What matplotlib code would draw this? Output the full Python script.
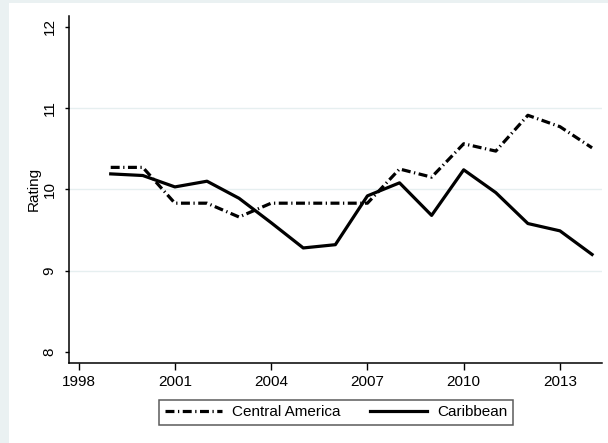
import numpy as np
import matplotlib
matplotlib.use('Agg')
import matplotlib.pyplot as plt
from matplotlib.patches import Rectangle

plt.rcParams['font.family'] = ['Liberation Sans', 'DejaVu Sans']

years = list(range(1999, 2015))
central_america = [10.27, 10.27, 9.83, 9.83, 9.66, 9.83, 9.83, 9.83,
                   9.83, 10.25, 10.15, 10.56, 10.47, 10.91, 10.77, 10.51]
caribbean = [10.19, 10.17, 10.03, 10.10, 9.89, 9.59, 9.28, 9.32,
             9.92, 10.08, 9.68, 10.24, 9.96, 9.58, 9.49, 9.20]
xticks = [1998, 2001, 2004, 2007, 2010, 2013]
yticks = [8, 9, 10, 11, 12]

fig = plt.figure(figsize=(6.08, 4.43), dpi=100, facecolor='#eaf1f2')
# white graph region with thin tinted border at top/left
fig.patches.append(Rectangle((9 / 608, 0), 1, 1 - 3 / 443, transform=fig.transFigure,
                             facecolor='white', edgecolor='none', zorder=-1))

ax = fig.add_axes([69 / 608, 1 - 362.7 / 443, (602 - 69) / 608, (362.7 - 16) / 443])
ax.set_facecolor('white')

ax.plot(years, central_america, color='black', lw=2.3,
        dashes=(2.8, 1.1, 0.4, 1.1), label='Central America')
ax.plot(years, caribbean, color='black', lw=2.3, label='Caribbean')

ax.set_xlim(1997.7, 2014.31)
ax.set_ylim(7.87, 12.13)
ax.set_xticks(xticks)
ax.set_yticks(yticks)
for v in [9, 10, 11]:
    ax.axhline(v, color='#e6eff0', lw=1, zorder=0)

for s in ['top', 'right']:
    ax.spines[s].set_visible(False)
for s in ['left', 'bottom']:
    ax.spines[s].set_linewidth(1.1)

ax.tick_params(axis='x', direction='out', length=5, width=1, pad=4, labelsize=11)
ax.tick_params(axis='y', direction='out', length=3, width=1, pad=6, labelsize=11)
plt.setp(ax.get_yticklabels(), rotation=90, va='center')
ax.set_ylabel('Rating', fontsize=11, labelpad=1)

leg = fig.legend(loc='center', bbox_to_anchor=(336 / 608, 1 - 412.4 / 443), ncol=2,
                 fontsize=11, frameon=True, fancybox=False, handlelength=3.75,
                 columnspacing=1.9, handletextpad=0.65, borderpad=0.38,
                 borderaxespad=0)
leg.get_frame().set_edgecolor('#333333')
leg.get_frame().set_linewidth(1.1)

plt.savefig('out.png', dpi=100, facecolor=fig.get_facecolor())
